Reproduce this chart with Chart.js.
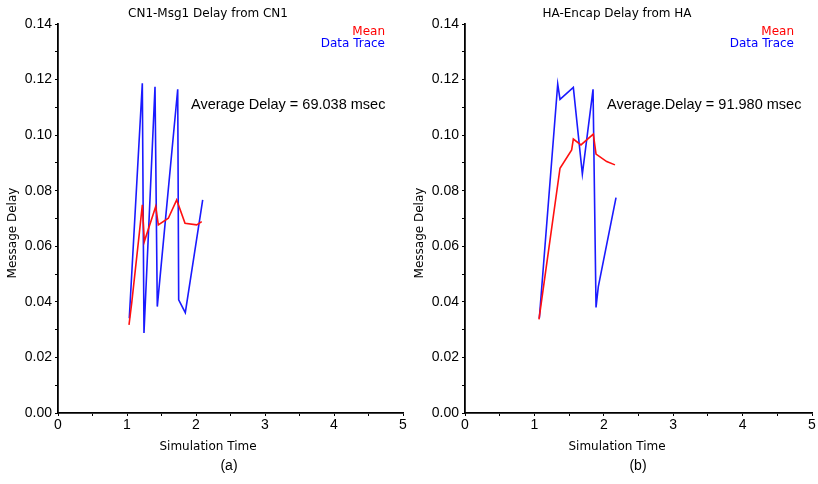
<!DOCTYPE html>
<html>
<head>
<meta charset="utf-8">
<script src="https://cdn.jsdelivr.net/npm/chart.js@4/dist/chart.umd.min.js"></script>
<style>
  html, body { margin: 0; padding: 0; background: #ffffff; }
  #wrap { position: relative; width: 818px; height: 484px; overflow: hidden; }
  canvas { position: absolute; top: 0; }
</style>
</head>
<body>
<div id="wrap">
  <canvas id="c1" width="409" height="484" style="left:0px"></canvas>
  <canvas id="c2" width="409" height="484" style="left:409px"></canvas>
</div>
<script>
// ---- Data ----
const chartTitles = ["CN1-Msg1 Delay from CN1", "HA-Encap Delay from HA"];
const captions = ["(a)", "(b)"];
const averageTexts = ["Average Delay = 69.038 msec", "Average.Delay = 91.980 msec"];
const seriesNames = ["Mean", "Data Trace"];
const xAxisTitle = "Simulation Time";
const yAxisTitle = "Message Delay";

// Panel (a)
const cnTraceX = [1.033, 1.222, 1.246, 1.406, 1.439, 1.735, 1.749, 1.845, 2.097];
const cnTraceY = [0.0341, 0.1187, 0.0288, 0.1174, 0.0383, 0.1165, 0.0407, 0.0361, 0.0767];
const cnMeanX = [1.029, 1.068, 1.18, 1.222, 1.251, 1.416, 1.454, 1.599, 1.720, 1.841, 2.010, 2.083];
const cnMeanY = [0.0317, 0.0395, 0.0650, 0.0749, 0.0617, 0.0743, 0.0677, 0.0701, 0.0767, 0.0683, 0.0677, 0.0689];

// Panel (b)
const haTraceX = [1.071, 1.336, 1.369, 1.561, 1.691, 1.845, 1.888, 1.921, 2.176];
const haTraceY = [0.0341, 0.1184, 0.1129, 0.1172, 0.0860, 0.1165, 0.0380, 0.0455, 0.0775];
const haMeanX = [1.066, 1.369, 1.537, 1.561, 1.671, 1.849, 1.888, 2.042, 2.161];
const haMeanY = [0.0337, 0.0881, 0.0947, 0.0986, 0.0965, 0.1004, 0.0932, 0.0905, 0.0893];

// Axis ranges / ticks
const xMin = 0, xMax = 5, xStep = 0.5;
const yMin = 0, yMax = 0.14, yStep = 0.01;

function pts(xs, ys) { return xs.map((x, i) => ({ x: x, y: ys[i] })); }

function makeChart(canvasId, idx, traceX, traceY, meanX, meanY, yAxisWidth, yTitleX) {
  const textPlugin = {
    id: 'texts' + idx,
    afterDraw(chart) {
      const ctx = chart.ctx;
      ctx.save();
      ctx.textBaseline = 'middle';
      // Title
      ctx.fillStyle = '#000000';
      ctx.font = '12px "DejaVu Sans"';
      ctx.textAlign = 'center';
      ctx.fillText(chartTitles[idx], 208, 14);
      // Legend
      ctx.textAlign = 'right';
      ctx.font = '12px "DejaVu Sans"';
      ctx.fillStyle = '#ff0000';
      ctx.fillText(seriesNames[0], 385, 32);
      ctx.fillStyle = '#0000ff';
      ctx.fillText(seriesNames[1], 385, 44);
      // Average annotation
      ctx.fillStyle = '#000000';
      ctx.textAlign = 'left';
      ctx.font = '14.5px "Liberation Sans"';
      ctx.fillText(averageTexts[idx], idx === 0 ? 191 : 198, 105);
      // X axis title
      ctx.textAlign = 'center';
      ctx.font = '12px "DejaVu Sans"';
      ctx.fillText(xAxisTitle, 208, 447);
      // Caption
      ctx.font = '14px "Liberation Sans"';
      ctx.fillText(captions[idx], 229, 466);
      // Y axis title
      ctx.save();
      ctx.translate(yTitleX, 233);
      ctx.rotate(-Math.PI / 2);
      ctx.font = '12px "DejaVu Sans"';
      ctx.fillText(yAxisTitle, 0, 0);
      ctx.restore();
      ctx.restore();
    }
  };

  return new Chart(document.getElementById(canvasId), {
    type: 'line',
    data: {
      datasets: [
        {
          label: seriesNames[0],
          data: pts(meanX, meanY),
          borderColor: '#ff1010',
          borderWidth: 1.6,
          pointRadius: 0,
          tension: 0,
          order: 0
        },
        {
          label: seriesNames[1],
          data: pts(traceX, traceY),
          borderColor: '#1a1aff',
          borderWidth: 1.6,
          pointRadius: 0,
          tension: 0,
          order: 1
        }
      ]
    },
    options: {
      responsive: false,
      animation: false,
      devicePixelRatio: 1,
      layout: { padding: { top: 24, right: 6, left: 0, bottom: 0 } },
      plugins: { legend: { display: false }, title: { display: false }, tooltip: { enabled: false } },
      scales: {
        x: {
          type: 'linear',
          min: xMin, max: xMax,
          afterFit: s => { s.height = 71; },
          border: { display: true, color: '#000000', width: 1.8 },
          grid: { display: true, drawOnChartArea: false, drawTicks: true, tickLength: 3, color: '#000000' },
          ticks: {
            stepSize: xStep,
            autoSkip: false,
            maxRotation: 0,
            padding: 1,
            color: '#000000',
            font: { family: 'Liberation Sans', size: 14 },
            callback: v => (Math.abs(v - Math.round(v)) < 1e-6 ? String(Math.round(v)) : '')
          }
        },
        y: {
          type: 'linear',
          min: yMin, max: yMax,
          afterFit: s => { s.width = yAxisWidth; },
          border: { display: true, color: '#000000', width: 1.8 },
          grid: { display: true, drawOnChartArea: false, drawTicks: true, tickLength: 3, color: '#000000' },
          ticks: {
            stepSize: yStep,
            autoSkip: false,
            padding: 3,
            color: '#000000',
            font: { family: 'Liberation Sans', size: 14 },
            callback: v => (Math.round(v * 100) % 2 === 0 ? v.toFixed(2) : '')
          }
        }
      }
    },
    plugins: [textPlugin]
  });
}

makeChart('c1', 0, cnTraceX, cnTraceY, cnMeanX, cnMeanY, 58, 13);
makeChart('c2', 1, haTraceX, haTraceY, haMeanX, haMeanY, 56, 11);
</script>
</body>
</html>
